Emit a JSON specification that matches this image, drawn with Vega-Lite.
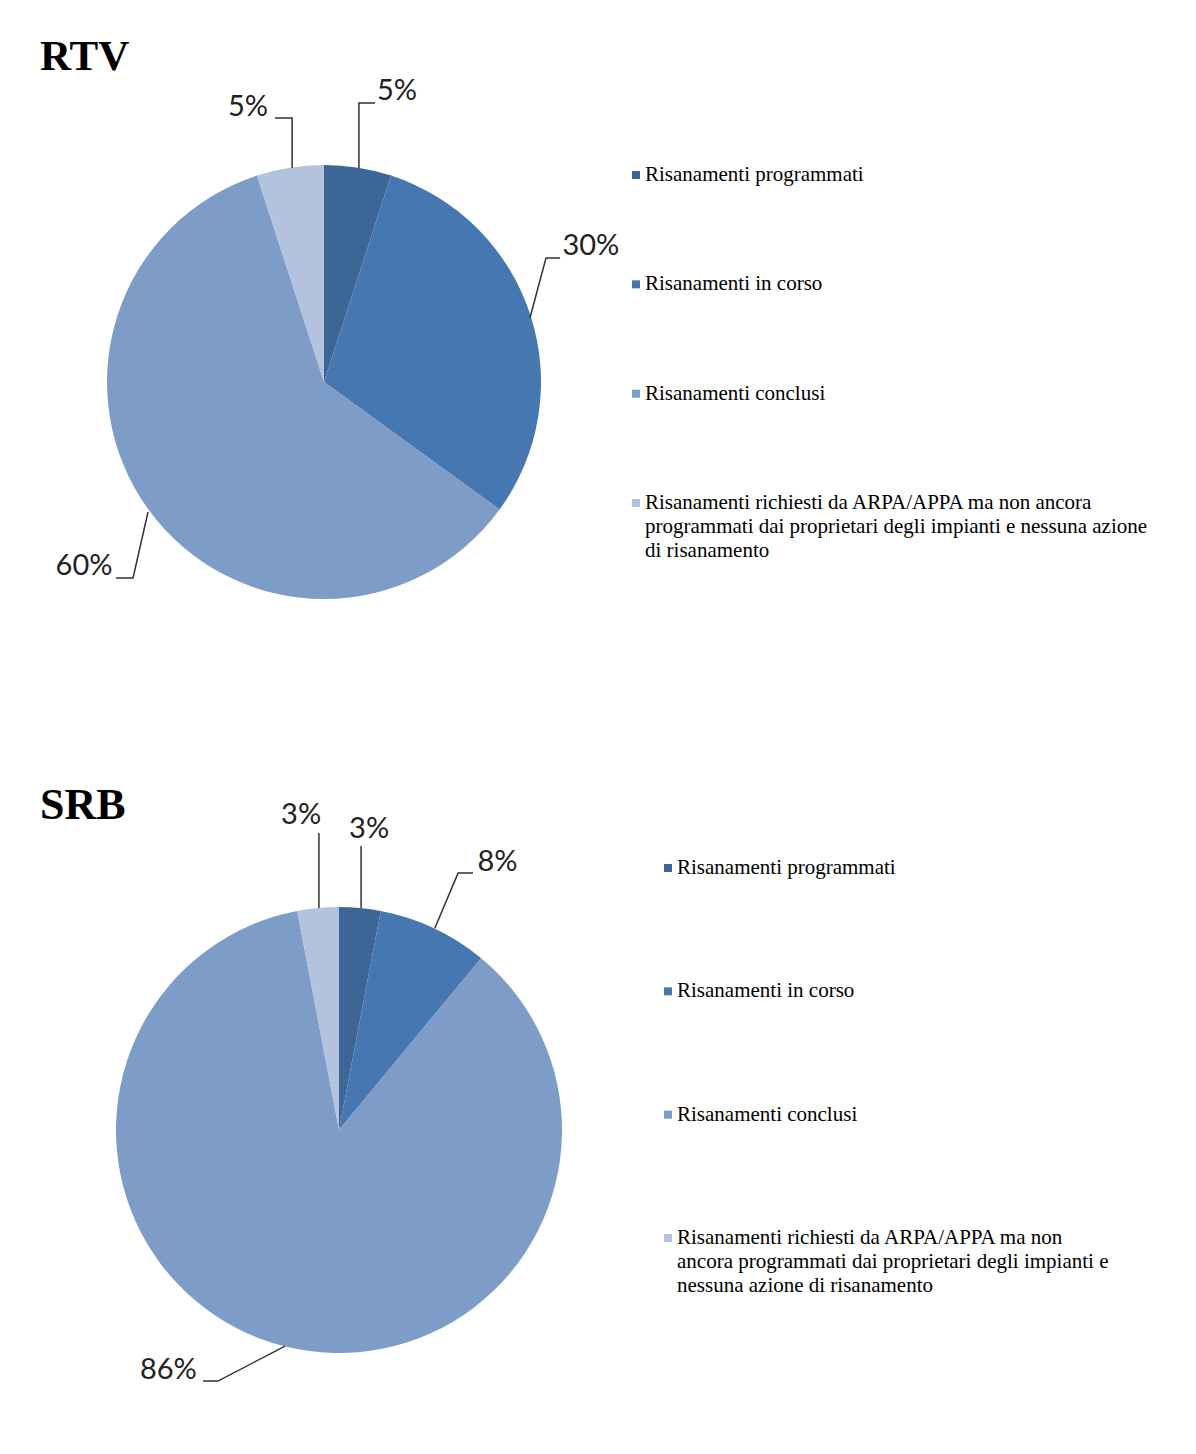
{
  "$schema": "https://vega.github.io/schema/vega-lite/v6.json",
  "padding": {"left": 40, "top": 36, "right": 5, "bottom": 5},
  "background": "white",
  "config": {"view": {"stroke": null}},
  "datasets": {
    "slices": [
      {"id": "RTV-p", "chart": "RTV", "idx": 1, "category": "Risanamenti programmati", "label": "Risanamenti programmati", "share": 5},
      {"id": "RTV-c", "chart": "RTV", "idx": 2, "category": "Risanamenti in corso", "label": "Risanamenti in corso", "share": 30},
      {"id": "RTV-k", "chart": "RTV", "idx": 3, "category": "Risanamenti conclusi", "label": "Risanamenti conclusi", "share": 60},
      {"id": "RTV-r", "chart": "RTV", "idx": 4, "category": "Risanamenti richiesti", "label": "Risanamenti richiesti da ARPA/APPA ma non ancora\nprogrammati dai proprietari degli impianti e nessuna azione\ndi risanamento", "share": 5},
      {"id": "SRB-p", "chart": "SRB", "idx": 1, "category": "Risanamenti programmati", "label": "Risanamenti programmati", "share": 3},
      {"id": "SRB-c", "chart": "SRB", "idx": 2, "category": "Risanamenti in corso", "label": "Risanamenti in corso", "share": 8},
      {"id": "SRB-k", "chart": "SRB", "idx": 3, "category": "Risanamenti conclusi", "label": "Risanamenti conclusi", "share": 86},
      {"id": "SRB-r", "chart": "SRB", "idx": 4, "category": "Risanamenti richiesti", "label": "Risanamenti richiesti da ARPA/APPA ma non\nancora programmati dai proprietari degli impianti e\nnessuna azione di risanamento", "share": 3}
    ],
    "callouts": [
      {"id": "RTV-p", "lx": 0.336, "ly": 1.341},
      {"id": "RTV-c", "lx": 1.23, "ly": 0.627},
      {"id": "RTV-k", "lx": -1.106, "ly": -0.848},
      {"id": "RTV-r", "lx": -0.35, "ly": 1.267},
      {"id": "SRB-p", "lx": 0.135, "ly": 1.35},
      {"id": "SRB-c", "lx": 0.711, "ly": 1.202},
      {"id": "SRB-k", "lx": -0.765, "ly": -1.076},
      {"id": "SRB-r", "lx": -0.17, "ly": 1.413}
    ],
    "leaders": [
      {"chart": "RTV", "id": "RTV-p", "step": 1, "x": 0.161, "y": 0.986},
      {"chart": "RTV", "id": "RTV-p", "step": 2, "x": 0.161, "y": 1.286},
      {"chart": "RTV", "id": "RTV-p", "step": 3, "x": 0.235, "y": 1.286},
      {"chart": "RTV", "id": "RTV-c", "step": 1, "x": 0.949, "y": 0.295},
      {"chart": "RTV", "id": "RTV-c", "step": 2, "x": 1.023, "y": 0.571},
      {"chart": "RTV", "id": "RTV-c", "step": 3, "x": 1.088, "y": 0.571},
      {"chart": "RTV", "id": "RTV-k", "step": 1, "x": -0.811, "y": -0.599},
      {"chart": "RTV", "id": "RTV-k", "step": 2, "x": -0.88, "y": -0.903},
      {"chart": "RTV", "id": "RTV-k", "step": 3, "x": -0.959, "y": -0.903},
      {"chart": "RTV", "id": "RTV-r", "step": 1, "x": -0.147, "y": 0.986},
      {"chart": "RTV", "id": "RTV-r", "step": 2, "x": -0.147, "y": 1.217},
      {"chart": "RTV", "id": "RTV-r", "step": 3, "x": -0.226, "y": 1.217},
      {"chart": "SRB", "id": "SRB-p", "step": 1, "x": 0.099, "y": 0.996},
      {"chart": "SRB", "id": "SRB-p", "step": 2, "x": 0.099, "y": 1.274},
      {"chart": "SRB", "id": "SRB-c", "step": 1, "x": 0.43, "y": 0.906},
      {"chart": "SRB", "id": "SRB-c", "step": 2, "x": 0.534, "y": 1.152},
      {"chart": "SRB", "id": "SRB-c", "step": 3, "x": 0.601, "y": 1.152},
      {"chart": "SRB", "id": "SRB-k", "step": 1, "x": -0.242, "y": -0.969},
      {"chart": "SRB", "id": "SRB-k", "step": 2, "x": -0.543, "y": -1.126},
      {"chart": "SRB", "id": "SRB-k", "step": 3, "x": -0.61, "y": -1.126},
      {"chart": "SRB", "id": "SRB-r", "step": 1, "x": -0.09, "y": 0.996},
      {"chart": "SRB", "id": "SRB-r", "step": 2, "x": -0.09, "y": 1.332}
    ]
  },
  "spacing": 101,
  "vconcat": [
    {
      "hconcat": [
        {
          "width": 568,
          "height": 600,
          "title": {"text": "RTV", "anchor": "start", "frame": "group", "font": "Liberation Serif", "fontSize": 43, "fontWeight": "bold", "color": "#000000", "baseline": "alphabetic", "offset": -36},
          "layer": [
            {
              "data": {"name": "slices"},
              "transform": [{"filter": "datum.chart === 'RTV'"}],
              "mark": {"type": "arc", "outerRadius": 217},
              "encoding": {
                "theta": {"field": "share", "type": "quantitative", "stack": true},
                "order": {"field": "idx", "type": "quantitative"},
                "color": {"field": "category", "type": "nominal", "legend": null,
                  "scale": {"domain": ["Risanamenti programmati", "Risanamenti in corso", "Risanamenti conclusi", "Risanamenti richiesti"], "range": ["#3c6696", "#4677b0", "#7e9cc8", "#b3c3de"]}}
              }
            },
            {
              "data": {"name": "leaders"},
              "transform": [{"filter": "datum.chart === 'RTV'"}],
              "mark": {"type": "line", "stroke": "#333333", "strokeWidth": 1.5},
              "encoding": {
                "x": {"field": "x", "type": "quantitative", "axis": null, "scale": {"domain": [-1.308756, 1.308756], "nice": false, "zero": false}},
                "y": {"field": "y", "type": "quantitative", "axis": null, "scale": {"domain": [-1.382488, 1.382488], "nice": false, "zero": false}},
                "detail": {"field": "id"},
                "order": {"field": "step", "type": "quantitative"}
              }
            },
            {
              "data": {"name": "slices"},
              "transform": [
                {"filter": "datum.chart === 'RTV'"},
                {"lookup": "id", "from": {"data": {"name": "callouts"}, "key": "id", "fields": ["lx", "ly"]}},
                {"calculate": "datum.share + '%'", "as": "pct"}
              ],
              "mark": {"type": "text", "font": "Lato", "fontSize": 29, "align": "center", "baseline": "middle", "color": "#222222"},
              "encoding": {
                "x": {"field": "lx", "type": "quantitative", "axis": null, "scale": {"domain": [-1.308756, 1.308756], "nice": false, "zero": false}},
                "y": {"field": "ly", "type": "quantitative", "axis": null, "scale": {"domain": [-1.382488, 1.382488], "nice": false, "zero": false}},
                "text": {"field": "pct", "type": "nominal"}
              }
            }
          ]
        },
        {
          "width": 520,
          "height": 514,
          "data": {"name": "slices"},
          "transform": [{"filter": "datum.chart === 'RTV'"}],
          "encoding": {
            "y": {"field": "category", "type": "nominal", "sort": null, "axis": null, "scale": {"type": "point", "padding": 0.851}},
            "x": {"datum": 0, "type": "quantitative", "axis": null, "scale": {"domain": [0, 1]}}
          },
          "layer": [
            {
              "mark": {"type": "point", "shape": "square", "filled": true, "size": 64, "opacity": 1},
              "encoding": {
                "color": {"field": "category", "type": "nominal", "legend": null,
                  "scale": {"domain": ["Risanamenti programmati", "Risanamenti in corso", "Risanamenti conclusi", "Risanamenti richiesti"], "range": ["#3c6696", "#4677b0", "#7e9cc8", "#b3c3de"]}}
              }
            },
            {
              "mark": {"type": "text", "align": "left", "baseline": "middle", "dx": 9, "font": "Liberation Serif", "fontSize": 21, "lineBreak": "\n", "lineHeight": 24, "color": "#000000"},
              "encoding": {"text": {"field": "label", "type": "nominal"}}
            }
          ]
        }
      ],
      "spacing": 28,
      "bounds": "flush"
    },
    {
      "hconcat": [
        {
          "width": 598,
          "height": 600,
          "title": {"text": "SRB", "anchor": "start", "frame": "group", "font": "Liberation Serif", "fontSize": 44, "fontWeight": "bold", "color": "#000000", "baseline": "alphabetic", "offset": -62},
          "layer": [
            {
              "data": {"name": "slices"},
              "transform": [{"filter": "datum.chart === 'SRB'"}],
              "mark": {"type": "arc", "outerRadius": 223},
              "encoding": {
                "theta": {"field": "share", "type": "quantitative", "stack": true},
                "order": {"field": "idx", "type": "quantitative"},
                "color": {"field": "category", "type": "nominal", "legend": null,
                  "scale": {"domain": ["Risanamenti programmati", "Risanamenti in corso", "Risanamenti conclusi", "Risanamenti richiesti"], "range": ["#3c6696", "#4677b0", "#7e9cc8", "#b3c3de"]}}
              }
            },
            {
              "data": {"name": "leaders"},
              "transform": [{"filter": "datum.chart === 'SRB'"}],
              "mark": {"type": "line", "stroke": "#333333", "strokeWidth": 1.5},
              "encoding": {
                "x": {"field": "x", "type": "quantitative", "axis": null, "scale": {"domain": [-1.340807, 1.340807], "nice": false, "zero": false}},
                "y": {"field": "y", "type": "quantitative", "axis": null, "scale": {"domain": [-1.345291, 1.345291], "nice": false, "zero": false}},
                "detail": {"field": "id"},
                "order": {"field": "step", "type": "quantitative"}
              }
            },
            {
              "data": {"name": "slices"},
              "transform": [
                {"filter": "datum.chart === 'SRB'"},
                {"lookup": "id", "from": {"data": {"name": "callouts"}, "key": "id", "fields": ["lx", "ly"]}},
                {"calculate": "datum.share + '%'", "as": "pct"}
              ],
              "mark": {"type": "text", "font": "Lato", "fontSize": 29, "align": "center", "baseline": "middle", "color": "#222222"},
              "encoding": {
                "x": {"field": "lx", "type": "quantitative", "axis": null, "scale": {"domain": [-1.340807, 1.340807], "nice": false, "zero": false}},
                "y": {"field": "ly", "type": "quantitative", "axis": null, "scale": {"domain": [-1.345291, 1.345291], "nice": false, "zero": false}},
                "text": {"field": "pct", "type": "nominal"}
              }
            }
          ]
        },
        {
          "width": 500,
          "height": 446,
          "data": {"name": "slices"},
          "transform": [{"filter": "datum.chart === 'SRB'"}],
          "encoding": {
            "y": {"field": "category", "type": "nominal", "sort": null, "axis": null, "scale": {"type": "point", "padding": 0.308}},
            "x": {"datum": 0, "type": "quantitative", "axis": null, "scale": {"domain": [0, 1]}}
          },
          "layer": [
            {
              "mark": {"type": "point", "shape": "square", "filled": true, "size": 64, "opacity": 1},
              "encoding": {
                "color": {"field": "category", "type": "nominal", "legend": null,
                  "scale": {"domain": ["Risanamenti programmati", "Risanamenti in corso", "Risanamenti conclusi", "Risanamenti richiesti"], "range": ["#3c6696", "#4677b0", "#7e9cc8", "#b3c3de"]}}
              }
            },
            {
              "mark": {"type": "text", "align": "left", "baseline": "middle", "dx": 9, "font": "Liberation Serif", "fontSize": 21, "lineBreak": "\n", "lineHeight": 24, "color": "#000000"},
              "encoding": {"text": {"field": "label", "type": "nominal"}}
            }
          ]
        }
      ],
      "spacing": 30,
      "bounds": "flush"
    }
  ]
}
